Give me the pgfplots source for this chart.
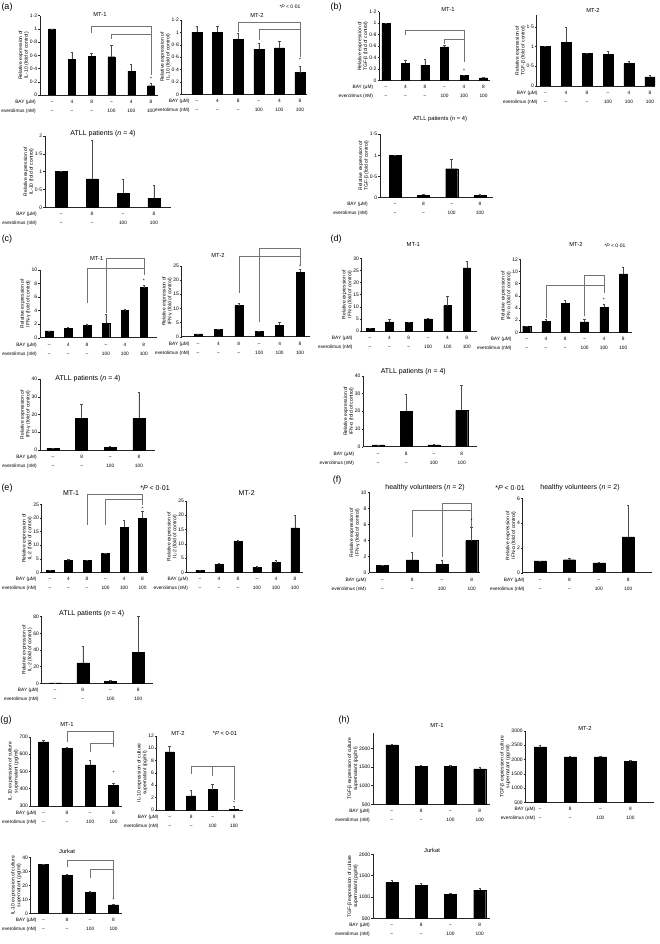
\documentclass[border=0pt]{standalone}
\usepackage{pgfplots}
\pgfplotsset{compat=1.18}
\usepackage{fontspec}
\setmainfont{Liberation Sans}
\newcommand{\tk}{\fontsize{5}{6}\selectfont}
\newcommand{\rowfont}{\fontsize{4.8}{9}\selectfont}
\newcommand{\ylf}{\fontsize{5}{5.8}\selectfont}
\newcommand{\ttl}{\fontsize{5.8}{7}\selectfont}
\newcommand{\bttl}{\fontsize{7}{8}\selectfont}
\newcommand{\plab}{\fontsize{9}{10}\selectfont}
\newcommand{\tl}[2]{\strut#1\\\strut#2}
\newcommand{\rowlab}[1]{\node[font=\rowfont, align=right, anchor=north east, inner sep=0pt] at ([xshift=#1pt,yshift=-1.8pt]rel axis cs:0,0) {\strut BAY (µM)\\\strut everolimus (nM)};}
\tikzset{br/.style={draw=black!55, line width=0.5pt}, st/.style={font=\tk, inner sep=0pt}}
\pgfplotsset{
 panel/.style={
  scale only axis, anchor=south west, ybar, bar width=#1,
  axis x line*=bottom, axis y line*=left,
  axis line style={black!85, line width=0.5pt},
  enlargelimits=false, ymin=0, clip=true, clip mode=individual,
  tick align=outside, major tick length=1.8pt,
  xtick style={draw=none},
  ytick style={black!85, line width=0.4pt},
  yticklabel style={font=\tk, inner sep=0.8pt},
  xticklabel style={font=\rowfont, align=center, inner sep=0pt},
  ylabel style={font=\ylf, align=center, inner sep=0pt},
  /pgf/number format/assume math mode=true,
  /pgf/number format/set decimal separator={·},
  /pgf/number format/1000 sep={},
 },
 six/.style={xtick={0,...,5}, xticklabels={\tl{–}{–},\tl{4}{–},\tl{8}{–},\tl{–}{100},\tl{4}{100},\tl{8}{100}}},
 four/.style={xtick={0,...,3}, xticklabels={\tl{–}{–},\tl{8}{–},\tl{–}{100},\tl{8}{100}}},
 barsty/.style={ybar, fill=black, draw=black, line width=0.3pt, error bars/.cd, y dir=plus, y explicit, error bar style={black!70, line width=0.4pt}, error mark options={rotate=90, mark size=1.2pt, black!70, line width=0.4pt}},
}
\begin{document}
\begin{tikzpicture}
\useasboundingbox (0,0) rectangle (659pt,-944pt);
% ---------- (a) ----------
\begin{axis}[panel=7pt, six, at={(40pt,-95pt)}, width=118pt, height=79.3pt, xmin=-0.61, xmax=5.35, ymax=1.2, ytick={0,0.2,0.4,0.6,0.8,1,1.2}, ylabel={Relative expression of\\IL-10 (fold of control)}]
\addplot[barsty] coordinates {(0,1) +- (0,0) (1,0.54) +- (0,0.11) (2,0.59) +- (0,0.04) (3,0.58) +- (0,0.17) (4,0.36) +- (0,0.10) (5,0.14) +- (0,0.04)};
\draw[br] (axis cs:2,0.94)--(axis cs:2,1.04)--(axis cs:5,1.04)--(axis cs:5,0.3);
\draw[br] (axis cs:3,0.85)--(axis cs:3,0.92)--(axis cs:5,0.92);
\node[st] at (axis cs:5,0.24) {*};
\rowlab{-4}
\end{axis}
\begin{axis}[panel=10pt, six, at={(181.7pt,-94.3pt)}, width=125.3pt, height=74.3pt, xmin=-0.74, xmax=5.34, ymax=1.2, ytick={0,0.2,0.4,0.6,0.8,1,1.2}, ylabel={Relative expression of\\IL-10 (fold of control)}]
\addplot[barsty] coordinates {(0,1) +- (0,0.1) (1,1) +- (0,0.1) (2,0.89) +- (0,0.1) (3,0.73) +- (0,0.1) (4,0.75) +- (0,0.1) (5,0.35) +- (0,0.1)};
\draw[br] (axis cs:2,1.0)--(axis cs:2,1.17)--(axis cs:5,1.17)--(axis cs:5,0.6);
\draw[br] (axis cs:3,0.88)--(axis cs:3,1.05)--(axis cs:5,1.05);
\node[st] at (axis cs:5,0.55) {*};
\rowlab{8}
\end{axis}
\begin{axis}[panel=12pt, four, at={(45pt,-207.3pt)}, width=126pt, height=71.3pt, xmin=-0.52, xmax=3.55, ymax=2, ytick={0,0.5,1,1.5,2}, ylabel={Relative expression of\\IL-10 (fold of control)}]
\addplot[barsty] coordinates {(0,1) +- (0,0) (1,0.8) +- (0,1.08) (2,0.39) +- (0,0.41) (3,0.26) +- (0,0.37)};
\rowlab{-8}
\end{axis}
% ---------- (b) ----------
\begin{axis}[panel=8pt, six, at={(379.3pt,-80.7pt)}, width=110.7pt, height=69pt, xmin=-0.34, xmax=5.33, ymax=1.2, ytick={0,0.2,0.4,0.6,0.8,1,1.2}, ylabel={Relative expression of\\TGF-β (fold of control)}]
\addplot[barsty] coordinates {(0,1) +- (0,0) (1,0.30) +- (0,0.05) (2,0.27) +- (0,0.10) (3,0.59) +- (0,0.03) (4,0.09) +- (0,0.01) (5,0.05) +- (0,0.01)};
\draw[br] (axis cs:1,0.79)--(axis cs:1,0.87)--(axis cs:4,0.87)--(axis cs:4,0.33);
\draw[br] (axis cs:3,0.64)--(axis cs:3,0.72)--(axis cs:4,0.72);
\node[st] at (axis cs:4,0.17) {*};
\rowlab{-6}
\end{axis}
\begin{axis}[panel=10pt, six, at={(536.7pt,-86pt)}, width=118.3pt, height=71.1pt, xmin=-0.40, xmax=5.24, ymax=1.8, ytick={0,0.5,1,1.5}, ylabel={Relative expression of\\TGF-β (fold of control)}]
\addplot[barsty] coordinates {(0,1) +- (0,0) (1,1.11) +- (0,0.37) (2,0.82) +- (0,0.02) (3,0.80) +- (0,0.08) (4,0.57) +- (0,0.05) (5,0.23) +- (0,0.05)};
\rowlab{1}
\end{axis}
\begin{axis}[panel=12pt, four, at={(380pt,-197.3pt)}, width=113pt, height=63pt, xmin=-0.53, xmax=3.46, ymax=1.5, ytick={0,0.5,1,1.5}, ylabel={Relative expression of\\TGF-β (fold of control)}]
\addplot[barsty] coordinates {(0,1) +- (0,0) (1,0.05) +- (0,0.03) (2,0.68) +- (0,0.22) (3,0.04) +- (0,0.03)};
\rowlab{-12}
\end{axis}
% ---------- (c) ----------
\begin{axis}[panel=7.5pt, six, at={(40pt,-337.7pt)}, width=117pt, height=67.7pt, xmin=-0.49, xmax=5.7, ymax=10, ytick={0,2,...,10}, ylabel={Relative expression of\\IFN-γ (fold of control)}]
\addplot[barsty] coordinates {(0,1) +- (0,0) (1,1.4) +- (0,0.15) (2,1.8) +- (0,0.15) (3,2.15) +- (0,1.25) (4,4.0) +- (0,0.2) (5,7.4) +- (0,0.35)};
\draw[br] (axis cs:3,3.6)--(axis cs:3,11.7)--(axis cs:5,11.7)--(axis cs:5,9.3);
\draw[br] (axis cs:2,5.1)--(axis cs:2,10.25)--(axis cs:5,10.25);
\node[st] at (axis cs:5,8.4) {*};
\rowlab{-3}
\end{axis}
\begin{axis}[panel=8pt, six, at={(181.7pt,-336.7pt)}, width=128.3pt, height=70.7pt, xmin=-0.8, xmax=5.49, ymax=25, ytick={0,5,...,25}, ylabel={Relative expression of\\IFN-γ (fold of control)}]
\addplot[barsty] coordinates {(0,1) +- (0,0) (1,2.5) +- (0,0.3) (2,11) +- (0,0.8) (3,1.8) +- (0,0.3) (4,4.0) +- (0,1.0) (5,22.8) +- (0,1.0)};
\draw[br] (axis cs:3,5.3)--(axis cs:3,31.2)--(axis cs:5,31.2)--(axis cs:5,25.3);
\draw[br] (axis cs:2,15.4)--(axis cs:2,28.3)--(axis cs:5,28.3);
\node[st] at (axis cs:5,24.6) {*};
\rowlab{8}
\end{axis}
\begin{axis}[panel=12pt, four, at={(40pt,-450pt)}, width=115pt, height=71pt, xmin=-0.45, xmax=3.56, ymax=40, ytick={0,10,...,40}, ylabel={Relative expression of\\IFN-γ (fold of control)}]
\addplot[barsty] coordinates {(0,1) +- (0,0) (1,17.8) +- (0,8.2) (2,1.5) +- (0,0.7) (3,17.8) +- (0,14.7)};
\rowlab{-3}
\end{axis}
% ---------- (d) ----------
\begin{axis}[panel=7.5pt, six, at={(361.7pt,-331pt)}, width=115pt, height=72.7pt, xmin=-0.43, xmax=5.51, ymax=30, ytick={0,5,...,30}, ylabel={Relative expression of\\IFN-α (fold of control)}]
\addplot[barsty] coordinates {(0,1) +- (0,0) (1,3.8) +- (0,1.2) (2,3.6) +- (0,0.2) (3,5.0) +- (0,0.3) (4,10.5) +- (0,3.7) (5,26) +- (0,2.8)};
\rowlab{-9}
\end{axis}
\begin{axis}[panel=8pt, six, at={(520.7pt,-332.3pt)}, width=111pt, height=73pt, xmin=-0.31, xmax=5.44, ymax=12, ytick={0,2,...,12}, ylabel={Relative expression of\\IFN-α (fold of control)}]
\addplot[barsty] coordinates {(0,1) +- (0,0) (1,1.85) +- (0,0.25) (2,4.8) +- (0,0.4) (3,1.7) +- (0,0.5) (4,4.1) +- (0,0.5) (5,9.6) +- (0,1.1)};
\draw[br] (axis cs:3,2.6)--(axis cs:3,9.3)--(axis cs:4,9.3)--(axis cs:4,7.8);
\draw[br] (axis cs:1,2.4)--(axis cs:1,7.8)--(axis cs:4,7.8)--(axis cs:4,6.4);
\node[st] at (axis cs:4,5.3) {*};
\rowlab{-9}
\end{axis}
\begin{axis}[panel=12pt, four, at={(363.3pt,-446.7pt)}, width=113.4pt, height=71pt, xmin=-0.54, xmax=3.54, ymax=40, ytick={0,10,...,40}, ylabel={Relative expression of\\IFN-α (fold of control)}]
\addplot[barsty] coordinates {(0,1) +- (0,0) (1,20) +- (0,9.5) (2,1.0) +- (0,0.3) (3,20.5) +- (0,14)};
\rowlab{-9}
\end{axis}
% ---------- (e) ----------
\begin{axis}[panel=8pt, six, at={(41.7pt,-572.3pt)}, width=106.6pt, height=68pt, xmin=-0.45, xmax=5.31, ymax=25, ytick={0,5,...,25}, ylabel={Relative expression of\\IL-2 (fold of control)}]
\addplot[barsty] coordinates {(0,0.8) +- (0,0) (1,4.5) +- (0,0.2) (2,4.3) +- (0,0.1) (3,7.0) +- (0,0.1) (4,16.6) +- (0,2.4) (5,19.9) +- (0,2.4)};
\draw[br] (axis cs:2,17.4)--(axis cs:2,28.7)--(axis cs:5,28.7)--(axis cs:5,24.7);
\draw[br] (axis cs:3,17.4)--(axis cs:3,26.9)--(axis cs:5,26.9);
\node[st] at (axis cs:5,23.5) {*};
\rowlab{-5}
\end{axis}
\begin{axis}[panel=8pt, six, at={(186.7pt,-572.3pt)}, width=116.6pt, height=71.3pt, xmin=-0.7, xmax=5.44, ymax=25, ytick={0,5,...,25}, ylabel={Relative expression of\\IL-2 (fold of control)}]
\addplot[barsty] coordinates {(0,0.8) +- (0,0) (1,2.8) +- (0,0.4) (2,10.8) +- (0,0.6) (3,1.8) +- (0,0.2) (4,3.4) +- (0,1.0) (5,15.6) +- (0,4.5)};
\rowlab{1.6}
\end{axis}
\begin{axis}[panel=12pt, four, at={(41.7pt,-683.3pt)}, width=111.6pt, height=66.7pt, xmin=-0.48, xmax=3.54, ymax=80, ytick={0,20,...,80}, ylabel={Relative expression of\\IL-2 (fold of control)}]
\addplot[barsty] coordinates {(0,0.5) +- (0,0) (1,24.5) +- (0,20.5) (2,2.0) +- (0,1.5) (3,37) +- (0,43)};
\rowlab{-3}
\end{axis}
% ---------- (f) ----------
\begin{axis}[panel=12pt, four, at={(369.3pt,-572.7pt)}, width=110.7pt, height=80.3pt, xmin=-0.44, xmax=3.28, ymax=10, ytick={0,2,...,10}, ylabel={Relative expression of\\IFN-γ (fold of control)}]
\addplot[barsty] coordinates {(0,0.95) +- (0,0) (1,1.6) +- (0,1.0) (2,1.05) +- (0,0.55) (3,4.0) +- (0,1.7)};
\draw[br] (axis cs:2,2.0)--(axis cs:2,8.6)--(axis cs:3,8.6)--(axis cs:3,5.7);
\draw[br] (axis cs:1,4.5)--(axis cs:1,7.8)--(axis cs:3,7.8);
\node[st] at (axis cs:3,6.5) {*};
\rowlab{-3}
\end{axis}
\begin{axis}[panel=12pt, four, at={(522.7pt,-572.7pt)}, width=129pt, height=74.3pt, xmin=-0.59, xmax=3.80, ymax=6, ytick={0,2,4,6}, ylabel={Relative expression of\\IFN-α (fold of control)}]
\addplot[barsty] coordinates {(0,0.95) +- (0,0) (1,1.05) +- (0,0.15) (2,0.8) +- (0,0.05) (3,2.9) +- (0,2.55)};
\rowlab{2}
\end{axis}
% ---------- (g) ----------
\begin{axis}[panel=10pt, four, at={(30.7pt,-806pt)}, width=91pt, height=69.3pt, xmin=-0.55, xmax=3.35, ymin=300, ymax=700, ytick={300,400,...,700}, ylabel={IL-10 expression of culture\\supernatant (pg/ml)}]
\addplot[barsty] coordinates {(0,670) +- (0,8) (1,632) +- (0,10) (2,537) +- (0,28) (3,420) +- (0,12)};
\draw[br] (axis cs:1,672)--(axis cs:1,729)--(axis cs:3,729)--(axis cs:3,640);
\draw[br] (axis cs:2,614)--(axis cs:2,662)--(axis cs:3,662);
\node[st] at (axis cs:3,490) {*};
\rowlab{6}
\end{axis}
\begin{axis}[panel=9pt, four, at={(156.7pt,-810pt)}, width=86pt, height=74.3pt, xmin=-0.6, xmax=3.4, ymax=12, ytick={0,2,...,12}, ylabel={IL-10 expression of culture\\supernatant (pg/ml)}]
\addplot[barsty] coordinates {(0,9.4) +- (0,0.9) (1,2.3) +- (0,0.9) (2,3.3) +- (0,0.8) (3,0.1) +- (0,0.5)};
\draw[br] (axis cs:1,5.8)--(axis cs:1,7)--(axis cs:3,7)--(axis cs:3,1.6);
\draw[br] (axis cs:2,5.5)--(axis cs:2,7);
\node[st] at (axis cs:3,1.2) {*};
\rowlab{2}
\end{axis}
\begin{axis}[panel=10pt, four, at={(30.7pt,-913.3pt)}, width=91pt, height=55.7pt, xmin=-0.55, xmax=3.35, ymax=40, ytick={0,10,...,40}, ylabel={IL-10 expression of culture\\supernatant (pg/ml)}]
\addplot[barsty] coordinates {(0,35) +- (0,0.5) (1,27.5) +- (0,0.8) (2,15.3) +- (0,0.3) (3,6.0) +- (0,0.5)};
\draw[br] (axis cs:1,33.6)--(axis cs:1,37.8)--(axis cs:3,37.8)--(axis cs:3,11);
\draw[br] (axis cs:2,25)--(axis cs:2,31.9)--(axis cs:3,31.9);
\node[st] at (axis cs:3,9.5) {*};
\rowlab{6}
\end{axis}
% ---------- (h) ----------
\begin{axis}[panel=12pt, four, at={(373pt,-804.3pt)}, width=117pt, height=70.9pt, xmin=-0.64, xmax=3.35, ymin=500, ymax=2400, ytick={500,1000,1500,2000}, ylabel={TGF-β expression of culture\\supernatant (pg/ml)}]
\addplot[barsty] coordinates {(0,2090) +- (0,30) (1,1520) +- (0,40) (2,1510) +- (0,25) (3,1450) +- (0,40)};
\rowlab{-3}
\end{axis}
\begin{axis}[panel=12pt, four, at={(525.4pt,-802.3pt)}, width=128.2pt, height=71.3pt, xmin=-0.49, xmax=3.77, ymin=500, ymax=3000, ytick={500,1000,...,3000}, ylabel={TGF-β expression of culture\\supernatant (pg/ml)}]
\addplot[barsty] coordinates {(0,2440) +- (0,50) (1,2090) +- (0,20) (2,2090) +- (0,20) (3,1930) +- (0,30)};
\rowlab{10}
\end{axis}
\begin{axis}[panel=12pt, four, at={(373pt,-918.3pt)}, width=117pt, height=64pt, xmin=-0.64, xmax=3.35, ymin=500, ymax=2000, ytick={500,1000,1500,2000}, ylabel={TGF-β expression of culture\\supernatant (pg/ml)}]
\addplot[barsty] coordinates {(0,1340) +- (0,50) (1,1275) +- (0,45) (2,1060) +- (0,40) (3,1160) +- (0,40)};
\rowlab{-3}
\end{axis}
% ---------- texts ----------
\node[font=\plab] at (7pt,-7pt) {(a)};
\node[font=\plab] at (336pt,-7pt) {(b)};
\node[font=\plab] at (7pt,-239pt) {(c)};
\node[font=\plab] at (336pt,-239pt) {(d)};
\node[font=\plab] at (7pt,-488pt) {(e)};
\node[font=\plab] at (337pt,-480pt) {(f)};
\node[font=\plab] at (6pt,-720pt) {(g)};
\node[font=\plab] at (344pt,-720pt) {(h)};
\node[font=\ttl] at (100pt,-15pt) {MT-1};
\node[font=\ttl] at (257pt,-15pt) {MT-2};
\node[font=\tk] at (290pt,-7pt) {*\textit{P} < 0·01};
\node[font=\bttl] at (103pt,-134pt) {ATLL patients (\textit{n} = 4)};
\node[font=\ttl] at (448pt,-10pt) {MT-1};
\node[font=\ttl] at (593pt,-10pt) {MT-2};
\node[font=\ttl] at (440pt,-119pt) {ATLL patients (\textit{n} = 4)};
\node[font=\ttl] at (96.7pt,-259pt) {MT-1};
\node[font=\ttl] at (218pt,-255pt) {MT-2};
\node[font=\bttl] at (88pt,-379pt) {ATLL patients (\textit{n} = 4)};
\node[font=\ttl] at (413.3pt,-245pt) {MT-1};
\node[font=\ttl] at (576pt,-244.3pt) {MT-2};
\node[font=\tk] at (615pt,-245.7pt) {*\textit{P} < 0·01};
\node[font=\bttl] at (413.3pt,-371.7pt) {ATLL patients (\textit{n} = 4)};
\node[font=\bttl] at (71pt,-493.3pt) {MT-1};
\node[font=\bttl] at (155pt,-488.3pt) {*\textit{P} < 0·01};
\node[font=\bttl] at (246.7pt,-493.3pt) {MT-2};
\node[font=\bttl] at (91.7pt,-613.3pt) {ATLL patients (\textit{n} = 4)};
\node[font=\bttl] at (425pt,-487.7pt) {healthy volunteers (\textit{n} = 2)};
\node[font=\bttl] at (510pt,-487.7pt) {*\textit{P} < 0·01};
\node[font=\bttl] at (580pt,-487.7pt) {healthy volunteers (\textit{n} = 2)};
\node[font=\ttl] at (67pt,-724.3pt) {MT-1};
\node[font=\ttl] at (178pt,-733.3pt) {MT-2};
\node[font=\ttl] at (225pt,-733.3pt) {*\textit{P} < 0·01};
\node[font=\ttl] at (67pt,-851.7pt) {Jurkat};
\node[font=\ttl] at (437pt,-725pt) {MT-1};
\node[font=\ttl] at (585pt,-728.3pt) {MT-2};
\node[font=\ttl] at (432pt,-850pt) {Jurkat};
\end{tikzpicture}
\end{document}
